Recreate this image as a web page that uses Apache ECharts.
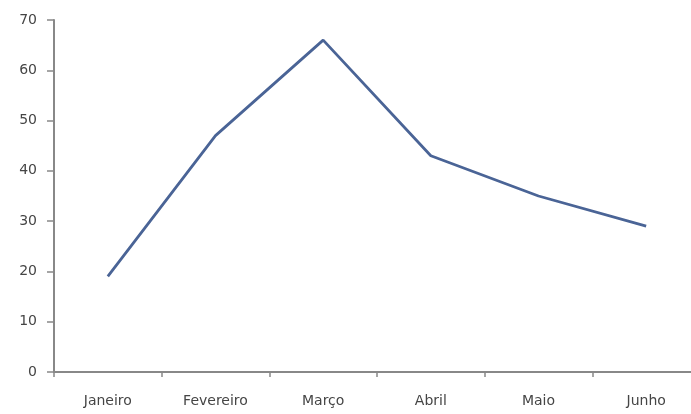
<!DOCTYPE html>
<html>
<head>
<meta charset="utf-8">
<script src="https://cdn.jsdelivr.net/npm/echarts@6/dist/echarts.min.js"></script>
<style>
  html, body { margin: 0; padding: 0; background: #ffffff; }
  #chart { width: 691px; height: 414px; }
</style>
</head>
<body>
<div id="chart"></div>
<script>
// Monthly values, January to June
const months = ['Janeiro', 'Fevereiro', 'Março', 'Abril', 'Maio', 'Junho'];
const values = [19, 47, 66, 43, 35, 29];
const yTicks = { min: 0, max: 70, interval: 10 };

const axisGrey = '#888888';
const labelGrey = '#454545';

const chart = echarts.init(document.getElementById('chart'), null, { renderer: 'canvas' });
chart.setOption({
  animation: false,
  backgroundColor: '#ffffff',
  // plot area runs slightly past the right edge of the canvas
  grid: { left: 54, right: -9, top: 20, bottom: 42, containLabel: false, outerBoundsMode: 'none' },
  xAxis: {
    type: 'category',
    data: months,
    boundaryGap: true,
    axisLine: { lineStyle: { color: axisGrey, width: 2 } },
    axisTick: { show: true, length: 5, lineStyle: { color: axisGrey, width: 1.5 } },
    axisLabel: { color: labelGrey, fontFamily: 'DejaVu Sans', fontSize: 14, margin: 22 },
    splitLine: { show: false }
  },
  yAxis: {
    type: 'value',
    min: yTicks.min,
    max: yTicks.max,
    interval: yTicks.interval,
    axisLine: { show: true, lineStyle: { color: axisGrey, width: 2 } },
    axisTick: { show: true, length: 7, lineStyle: { color: axisGrey, width: 1.5 } },
    axisLabel: { color: labelGrey, fontFamily: 'DejaVu Sans', fontSize: 14, margin: 17 },
    splitLine: { show: false }
  },
  series: [{
    type: 'line',
    data: values,
    symbol: 'none',
    lineStyle: { color: '#4a6496', width: 2.8 },
    itemStyle: { color: '#4a6496' }
  }]
});
</script>
</body>
</html>
